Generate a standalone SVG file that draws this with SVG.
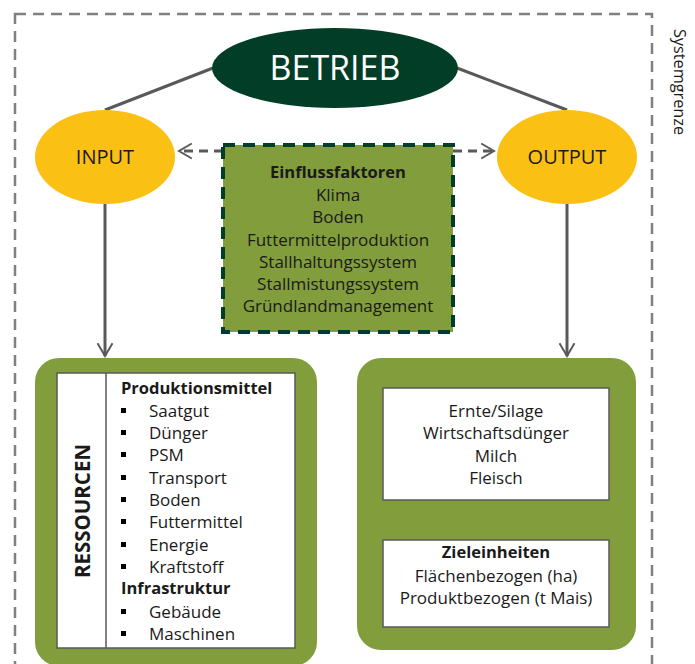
<svg xmlns="http://www.w3.org/2000/svg" width="695" height="664" viewBox="0 0 695 664">
<style>
  .t { font-family: "Open Sans", Lato, "Liberation Sans", sans-serif; fill: #1a1a1a; }
  .body { font-size: 17px; }
  .b { font-weight: bold; font-size: 16.5px; }
  .mid { text-anchor: middle; }
  .conn { stroke: #595959; stroke-width: 3; fill: none; }
  .dash { stroke-dasharray: 9 6; }
  .panel { fill: #829d3c; }
  .white { fill: #ffffff; stroke: #595959; stroke-width: 1.5; }
  .yellow { fill: #fbc014; }
</style>
<defs>
  <marker id="arr" viewBox="0 0 12 12" refX="10" refY="6" markerWidth="6" markerHeight="6" orient="auto" markerUnits="strokeWidth">
    <path d="M1.5,1 L10,6 L1.5,11" fill="none" stroke="#595959" stroke-width="1.3" stroke-linejoin="miter"/>
  </marker>
</defs>
<rect width="695" height="664" fill="#ffffff"/>

<g id="systemgrenze">
  <rect x="15" y="14" width="637" height="700" fill="none" stroke="#808080" stroke-width="2.5" stroke-dasharray="11 7"/>
  <text class="t" transform="translate(674,82) rotate(90)" text-anchor="middle" font-size="16.3">Systemgrenze</text>
</g>

<g id="connectors">
  <line class="conn" x1="213" y1="68" x2="105" y2="110"/>
  <line class="conn" x1="457" y1="68" x2="567" y2="110"/>
  <line class="conn dash" x1="223" y1="151" x2="179" y2="151" marker-end="url(#arr)"/>
  <line class="conn dash" x1="453" y1="151" x2="494" y2="151" marker-end="url(#arr)"/>
  <line class="conn" x1="105" y1="204" x2="105" y2="356" marker-end="url(#arr)"/>
  <line class="conn" x1="567" y1="204" x2="567" y2="356" marker-end="url(#arr)"/>
</g>

<g id="betrieb">
  <ellipse cx="335" cy="68" rx="123" ry="40" fill="#023e27"/>
  <text class="t mid" x="335" y="80" font-size="34" style="fill:#ffffff">BETRIEB</text>
</g>

<g id="input">
  <ellipse class="yellow" cx="105" cy="157" rx="70" ry="47"/>
  <text class="t mid" x="105" y="164" font-size="20">INPUT</text>
</g>

<g id="output">
  <ellipse class="yellow" cx="567" cy="157" rx="70" ry="47"/>
  <text class="t mid" x="567" y="164" font-size="20">OUTPUT</text>
</g>

<g id="einflussfaktoren">
  <rect x="223" y="145" width="230" height="187" class="panel" stroke="#023e27" stroke-width="4" stroke-dasharray="12 8"/>
  <g class="t body mid">
    <text x="338" y="178" class="b">Einflussfaktoren</text>
    <text x="338" y="201">Klima</text>
    <text x="338" y="223">Boden</text>
    <text x="338" y="246">Futtermittelproduktion</text>
    <text x="338" y="268">Stallhaltungssystem</text>
    <text x="338" y="290">Stallmistungssystem</text>
    <text x="338" y="312">Gründlandmanagement</text>
  </g>
</g>

<g id="ressourcen">
  <rect x="35" y="358" width="282" height="308" rx="24" class="panel"/>
  <rect x="57" y="373" width="238" height="275" class="white"/>
  <line x1="106" y1="373" x2="106" y2="648" stroke="#595959" stroke-width="1.5"/>
  <text class="t b" transform="translate(90,511) rotate(-90)" text-anchor="middle" style="font-size:20.5px">RESSOURCEN</text>
  <g class="t body">
    <text x="121" y="394" class="b">Produktionsmittel</text>
    <text x="149" y="417">Saatgut</text>
    <text x="149" y="439">Dünger</text>
    <text x="149" y="461">PSM</text>
    <text x="149" y="484">Transport</text>
    <text x="149" y="506">Boden</text>
    <text x="149" y="528">Futtermittel</text>
    <text x="149" y="551">Energie</text>
    <text x="149" y="573">Kraftstoff</text>
    <text x="121" y="594" class="b">Infrastruktur</text>
    <text x="149" y="618">Gebäude</text>
    <text x="149" y="640">Maschinen</text>
  </g>
  <g fill="#000000">
    <rect x="121" y="408" width="5" height="5"/>
    <rect x="121" y="430" width="5" height="5"/>
    <rect x="121" y="452" width="5" height="5"/>
    <rect x="121" y="475" width="5" height="5"/>
    <rect x="121" y="497" width="5" height="5"/>
    <rect x="121" y="519" width="5" height="5"/>
    <rect x="121" y="542" width="5" height="5"/>
    <rect x="121" y="564" width="5" height="5"/>
    <rect x="121" y="609" width="5" height="5"/>
    <rect x="121" y="631" width="5" height="5"/>
  </g>
</g>

<g id="ergebnisse">
  <rect x="357" y="358" width="279" height="292" rx="24" class="panel"/>
  <rect x="383" y="388" width="226" height="112" class="white"/>
  <g class="t body mid">
    <text x="496" y="417">Ernte/Silage</text>
    <text x="496" y="439">Wirtschaftsdünger</text>
    <text x="496" y="462">Milch</text>
    <text x="496" y="484">Fleisch</text>
  </g>
</g>

<g id="zieleinheiten">
  <rect x="383" y="540" width="226" height="87" class="white"/>
  <g class="t body mid">
    <text x="496" y="558" class="b">Zieleinheiten</text>
    <text x="496" y="582">Flächenbezogen (ha)</text>
    <text x="496" y="604">Produktbezogen (t Mais)</text>
  </g>
</g>
</svg>
